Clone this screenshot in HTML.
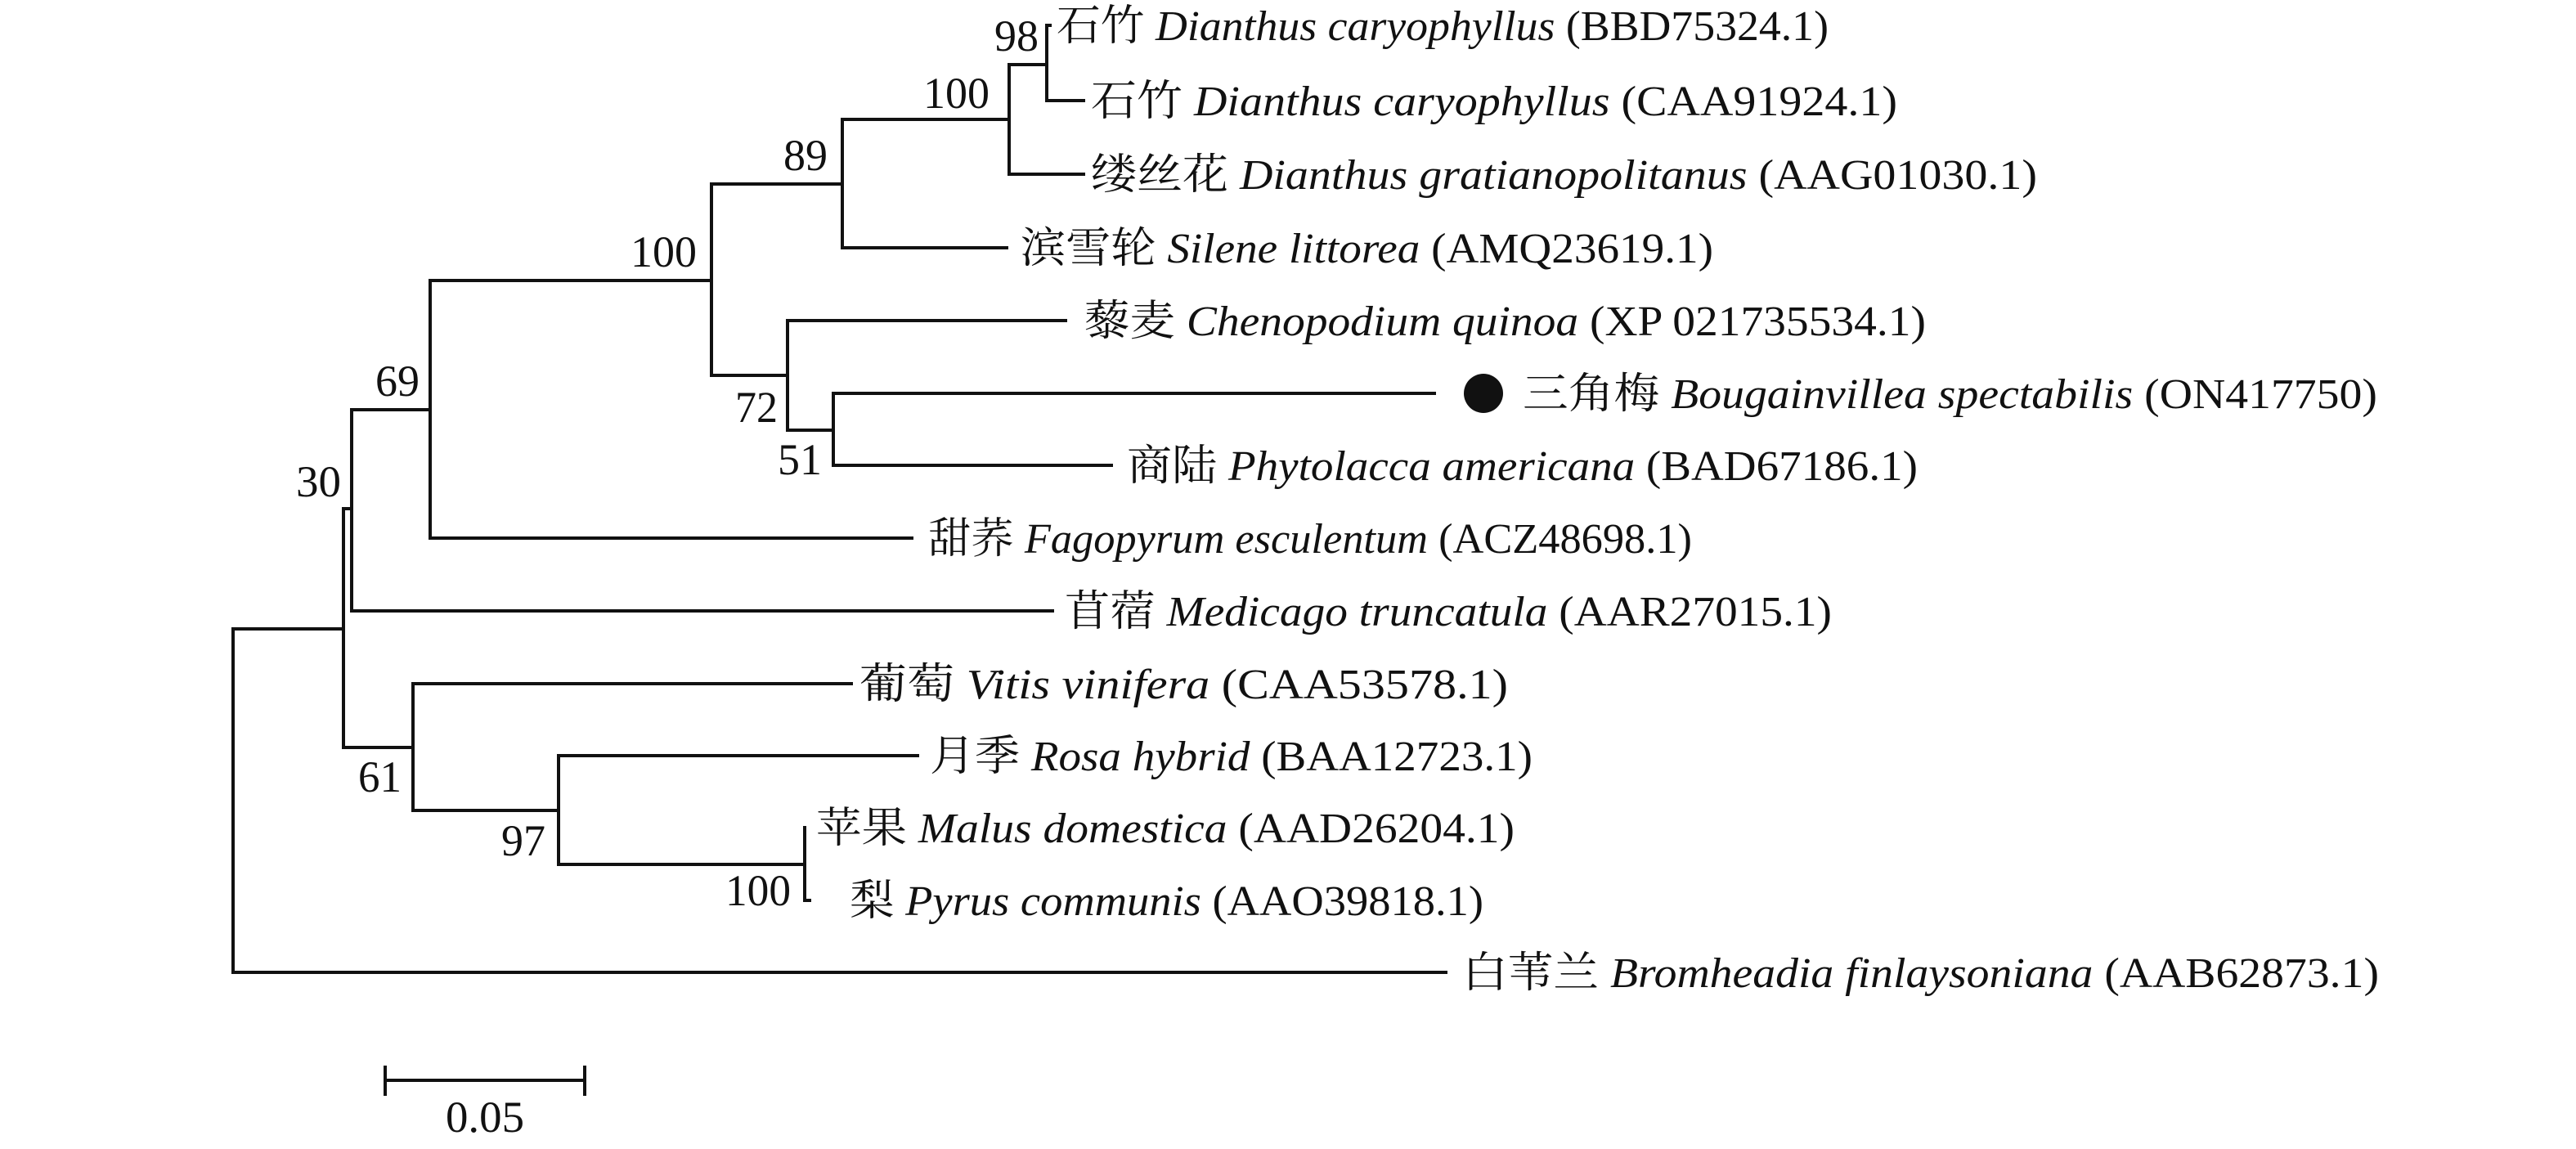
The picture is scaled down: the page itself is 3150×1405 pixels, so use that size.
<!DOCTYPE html>
<html><head><meta charset="utf-8"><style>
html,body{margin:0;padding:0;background:#fff;}
svg{display:block;}
text{font-family:"Liberation Serif","Noto Serif CJK SC","Noto Sans CJK SC",serif;fill:#111;}
</style></head><body>
<svg width="3150" height="1405" viewBox="0 0 3150 1405" xmlns="http://www.w3.org/2000/svg">
<g stroke="#111" stroke-width="4" fill="none" stroke-linecap="square">
<path d="M1280 31 H1284 M1280 31 V123 H1325"/>
<path d="M1234 79 H1280 M1234 79 V213 H1325"/>
<path d="M1030 146 H1234 M1030 146 V303 H1231"/>
<path d="M870 225 H1030 M870 225 V459 H963"/>
<path d="M963 392 H1303 M963 392 V526 H1019"/>
<path d="M1019 481 H1754 M1019 481 V569 H1359"/>
<path d="M526 343 H870 M526 343 V658 H1115"/>
<path d="M430 501 H526 M430 501 V747 H1287"/>
<path d="M420 622 H430 M420 622 V914 H505"/>
<path d="M285 769 H420 M285 769 V1189 H1768"/>
<path d="M505 836 H1041 M505 836 V991 H683"/>
<path d="M683 924 H1122 M683 924 V1057 H984"/>
<path d="M984 1012 V1101 H990"/>
<path d="M471 1321 H715 M471 1305 V1338 M715 1305 V1338"/>
</g>
<circle cx="1814" cy="481" r="24" fill="#111"/>
<g font-size="54" text-anchor="end">
<text x="1270" y="62" textLength="54" lengthAdjust="spacingAndGlyphs">98</text>
<text x="1210" y="132" textLength="81" lengthAdjust="spacingAndGlyphs">100</text>
<text x="1012" y="208" textLength="54" lengthAdjust="spacingAndGlyphs">89</text>
<text x="852" y="326" textLength="81" lengthAdjust="spacingAndGlyphs">100</text>
<text x="951" y="516" textLength="52" lengthAdjust="spacingAndGlyphs">72</text>
<text x="1005" y="580" textLength="54" lengthAdjust="spacingAndGlyphs">51</text>
<text x="513" y="484" textLength="54" lengthAdjust="spacingAndGlyphs">69</text>
<text x="417" y="607" textLength="55" lengthAdjust="spacingAndGlyphs">30</text>
<text x="491" y="968" textLength="53" lengthAdjust="spacingAndGlyphs">61</text>
<text x="667" y="1046" textLength="54" lengthAdjust="spacingAndGlyphs">97</text>
<text x="967" y="1107" textLength="80" lengthAdjust="spacingAndGlyphs">100</text>
</g>
<text x="593" y="1384" font-size="54" text-anchor="middle" textLength="96" lengthAdjust="spacingAndGlyphs">0.05</text>
<g font-size="52">
<text x="1292" y="49" textLength="944" lengthAdjust="spacingAndGlyphs">石竹 <tspan font-style="italic">Dianthus caryophyllus</tspan> (BBD75324.1)</text>
<text x="1334" y="141" textLength="986" lengthAdjust="spacingAndGlyphs">石竹 <tspan font-style="italic">Dianthus caryophyllus</tspan> (CAA91924.1)</text>
<text x="1334" y="231" textLength="1157" lengthAdjust="spacingAndGlyphs">缕丝花 <tspan font-style="italic">Dianthus gratianopolitanus</tspan> (AAG01030.1)</text>
<text x="1248" y="321" textLength="847" lengthAdjust="spacingAndGlyphs">滨雪轮 <tspan font-style="italic">Silene littorea</tspan> (AMQ23619.1)</text>
<text x="1326" y="410" textLength="1029" lengthAdjust="spacingAndGlyphs">藜麦 <tspan font-style="italic">Chenopodium quinoa</tspan> (XP 021735534.1)</text>
<text x="1862" y="499" textLength="1045" lengthAdjust="spacingAndGlyphs">三角梅 <tspan font-style="italic">Bougainvillea spectabilis</tspan> (ON417750)</text>
<text x="1378" y="587" textLength="967" lengthAdjust="spacingAndGlyphs">商陆 <tspan font-style="italic">Phytolacca americana</tspan> (BAD67186.1)</text>
<text x="1135" y="676" textLength="934" lengthAdjust="spacingAndGlyphs">甜荞 <tspan font-style="italic">Fagopyrum esculentum</tspan> (ACZ48698.1)</text>
<text x="1302" y="765" textLength="938" lengthAdjust="spacingAndGlyphs">苜蓿 <tspan font-style="italic">Medicago truncatula</tspan> (AAR27015.1)</text>
<text x="1051" y="854" textLength="793" lengthAdjust="spacingAndGlyphs">葡萄 <tspan font-style="italic">Vitis vinifera</tspan> (CAA53578.1)</text>
<text x="1137" y="942" textLength="737" lengthAdjust="spacingAndGlyphs">月季 <tspan font-style="italic">Rosa hybrid</tspan> (BAA12723.1)</text>
<text x="998" y="1030" textLength="854" lengthAdjust="spacingAndGlyphs">苹果 <tspan font-style="italic">Malus domestica</tspan> (AAD26204.1)</text>
<text x="1039" y="1119" textLength="775" lengthAdjust="spacingAndGlyphs">梨 <tspan font-style="italic">Pyrus communis</tspan> (AAO39818.1)</text>
<text x="1788" y="1207" textLength="1121" lengthAdjust="spacingAndGlyphs">白苇兰 <tspan font-style="italic">Bromheadia finlaysoniana</tspan> (AAB62873.1)</text>
</g>
</svg>
</body></html>
